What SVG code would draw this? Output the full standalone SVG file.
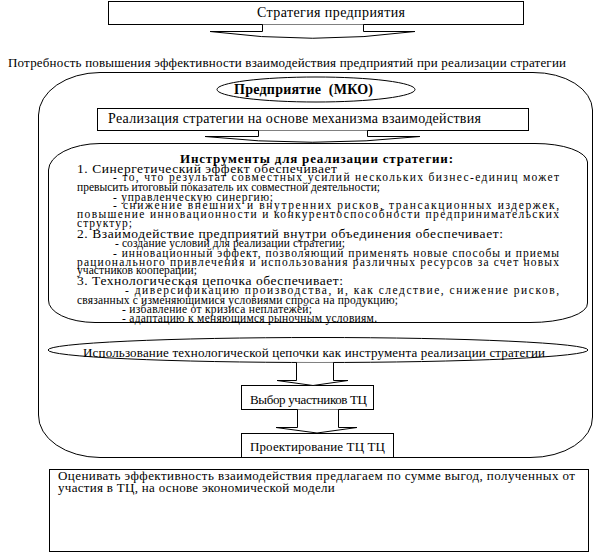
<svg xmlns="http://www.w3.org/2000/svg" width="613" height="554" viewBox="0 0 613 554" font-family="Liberation Serif, Tinos, DejaVu Serif, serif">
<style>
  .s{fill:#fff;stroke:#000;stroke-width:1}
  text{fill:#000;white-space:pre}
  .t14{font-size:14px}
  .t13{font-size:13px}
  .b{font-weight:bold}
  .p{font-size:11.5px}
  .h{font-size:13.5px}
</style>
<rect width="613" height="554" fill="#fff"/>
<g id="outer">
  <path class="s" d="M100,72.5 H533 A59,38 0 0 1 592.5,110 V417 A62,40 0 0 1 530,457.5 H100 A62,42 0 0 1 38.5,415 V115 A62,43 0 0 1 100,72.5 Z"/>
</g>
<g id="strategy">
  <rect class="s" x="108.5" y="1.5" width="415" height="23"/>
  <text class="t14" x="257" y="17" textLength="148" lengthAdjust="spacing" font-family="Liberation Serif, serif">Стратегия предприятия</text>
</g>
<g id="need">
  <text class="t13" x="8" y="67" textLength="558" lengthAdjust="spacing" font-family="Liberation Serif, serif">Потребность повышения эффективности взаимодействия предприятий при реализации стратегии</text>
</g>
<g id="enterprise">
  <ellipse class="s" cx="316" cy="89.5" rx="99" ry="12.5"/>
  <text class="t14 b" x="234" y="94" textLength="139" lengthAdjust="spacing" font-family="Liberation Serif, serif">Предприятие  (МКО)</text>
</g>
<g id="realization">
  <rect class="s" x="97.5" y="108.5" width="431" height="22"/>
  <text class="t14" x="108" y="123" textLength="373" lengthAdjust="spacing" font-family="Liberation Serif, serif">Реализация стратегии на основе механизма взаимодействия</text>
</g>
<g id="tools" font-family="Liberation Serif, serif">
  <path class="s" d="M100,143.5 H535 A52,19 0 0 1 587.5,162 V303 A57,19 0 0 1 530,322.5 H95 A47,22 0 0 1 48.5,300 V170 A52,27 0 0 1 100,143.5 Z"/>
  <text class="t13 b" x="180" y="163" textLength="273" lengthAdjust="spacing">Инструменты для реализации стратегии:</text>
  <text class="h" x="77" y="173" textLength="260" lengthAdjust="spacing">1. Синергетический эффект обеспечивает</text>
  <text class="p" x="113" y="181" textLength="446" lengthAdjust="spacing">- то, что результат совместных усилий нескольких бизнес-единиц может</text>
  <text class="p" x="77" y="191" textLength="303" lengthAdjust="spacing">превысить итоговый показатель их совместной деятельности;</text>
  <text class="p" x="113" y="201" textLength="160" lengthAdjust="spacing">- управленческую синергию;</text>
  <text class="p" x="113" y="209" textLength="446" lengthAdjust="spacing">- снижение внешних и внутренних рисков, трансакционных издержек,</text>
  <text class="p" x="77" y="218" textLength="482" lengthAdjust="spacing">повышение инновационности и конкурентоспособности предпринимательских</text>
  <text class="p" x="77" y="227" textLength="55" lengthAdjust="spacing">структур;</text>
  <text class="h" x="77" y="238" textLength="426" lengthAdjust="spacing">2. Взаимодействие предприятий внутри объединения обеспечивает:</text>
  <text class="p" x="115" y="247" textLength="230" lengthAdjust="spacing">- создание условий для реализации стратегии;</text>
  <text class="p" x="113" y="257" textLength="446" lengthAdjust="spacing">- инновационный эффект, позволяющий применять новые способы и приемы</text>
  <text class="p" x="77" y="266" textLength="482" lengthAdjust="spacing">рационального привлечения и использования различных ресурсов за счет новых</text>
  <text class="p" x="77" y="274" textLength="120" lengthAdjust="spacing">участников кооперации;</text>
  <text class="h" x="77" y="285" textLength="266" lengthAdjust="spacing">3. Технологическая цепочка обеспечивает:</text>
  <text class="p" x="125" y="294" textLength="434" lengthAdjust="spacing">- диверсификацию производства, и, как следствие, снижение рисков,</text>
  <text class="p" x="77" y="304" textLength="321" lengthAdjust="spacing">связанных с изменяющимися условиями спроса на продукцию;</text>
  <text class="p" x="122" y="313" textLength="190" lengthAdjust="spacing">- избавление от кризиса неплатежей;</text>
  <text class="p" x="122" y="322" textLength="255" lengthAdjust="spacing">- адаптацию к меняющимся рыночным условиям.</text>
</g>
<g id="chain">
  <ellipse class="s" cx="318" cy="350" rx="270" ry="12.5"/>
  <text class="t13" x="83" y="357" textLength="462" lengthAdjust="spacing" font-family="Liberation Serif, serif">Использование технологической цепочки как инструмента реализации стратегии</text>
</g>
<g id="choice">
  <rect class="s" x="241.5" y="385.5" width="132" height="24"/>
  <text class="t13" x="250" y="404" textLength="117" lengthAdjust="spacing" font-family="Liberation Serif, serif">Выбор участников ТЦ</text>
</g>
<g id="design">
  <rect class="s" x="241.5" y="433.5" width="152" height="24"/>
  <text class="t13" x="250" y="451" textLength="135" lengthAdjust="spacing" font-family="Liberation Serif, serif">Проектирование ТЦ ТЦ</text>
</g>
<g id="evaluation" font-family="Liberation Serif, serif">
  <rect class="s" x="49.5" y="469.5" width="539" height="82"/>
  <text class="t13" x="58" y="480" textLength="517" lengthAdjust="spacing">Оценивать эффективность взаимодействия предлагаем по сумме выгод, полученных от</text>
  <text class="t13" x="58" y="492" letter-spacing="0.3">участия в ТЦ, на основе экономической модели</text>
</g>
<g id="connectors">
  <path class="s" d="M262.5,24.5 V31.5 H210 Q313,45 415,31.5 H363.5 V24.5"/>
  <path class="s" d="M258.5,130.5 V136.5 H205 Q312,148 420,136.5 H367.5 V130.5"/>
  <path class="s" d="M296.5,362.5 V380.5 H277 L313,385.5 L348,380.5 H333.5 V362.5"/>
  <path class="s" d="M297.5,409.5 V427.5 H276 L317,433 L357,427.5 H338.5 V409.5"/>
</g>
</svg>
